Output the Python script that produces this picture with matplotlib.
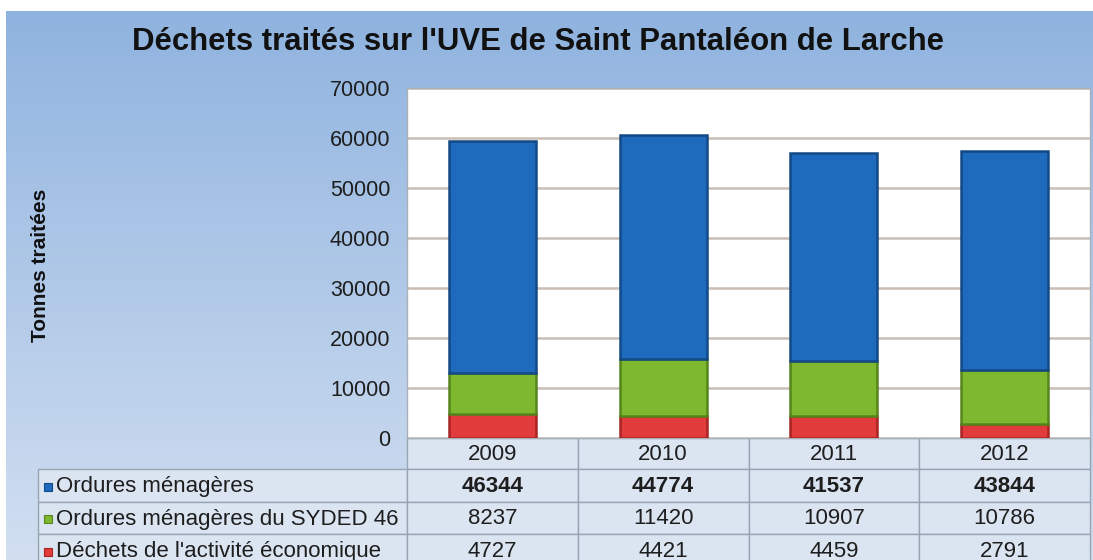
import numpy as np
import matplotlib.pyplot as plt
from matplotlib.patches import Rectangle
from matplotlib.colors import LinearSegmentedColormap

plt.rcParams['font.family'] = ['Liberation Sans', 'DejaVu Sans']

# Data
years = ['2009', '2010', '2011', '2012']
series = ['Ordures ménagères', 'Ordures ménagères du SYDED 46',
          "Déchets de l'activité économique"]
ordures = [46344, 44774, 41537, 43844]
syded = [8237, 11420, 10907, 10786]
activite = [4727, 4421, 4459, 2791]

colors = ['#1e6abd', '#7db82f', '#e23b3b']
edges = ['#134985', '#55851c', '#a82424']

W, H = 1093, 560
fig = plt.figure(figsize=(W / 100, H / 100), dpi=100)
fig.patch.set_facecolor('white')

# background panel (pixel coordinates)
bg = fig.add_axes([0, 0, 1, 1], zorder=0)
bg.set_xlim(0, W)
bg.set_ylim(H, 0)
bg.axis('off')
grad = np.linspace(0, 1, 256).reshape(-1, 1)
cmap = LinearSegmentedColormap.from_list('bg', ['#8fb3df', '#d2dff1'])
bg.imshow(grad, cmap=cmap, extent=[6, W, H, 11], aspect='auto', zorder=0)

# chart area
ax = fig.add_axes([407 / W, (H - 438) / H, (1090 - 407) / W, (438 - 88) / H], zorder=2)
ax.set_facecolor('white')
x = np.arange(len(years))
bw = 0.51
ax.bar(x, activite, width=bw, color=colors[2], edgecolor=edges[2], lw=1.8, zorder=3)
ax.bar(x, syded, bottom=activite, width=bw, color=colors[1], edgecolor=edges[1], lw=1.8, zorder=3)
ax.bar(x, ordures, bottom=np.add(activite, syded), width=bw, color=colors[0],
       edgecolor=edges[0], lw=1.8, zorder=3)

ax.set_xlim(-0.5, 3.5)
ax.set_ylim(0, 70000)
ax.set_yticks(range(0, 70001, 10000))
ax.set_xticks([])
ax.tick_params(axis='y', length=0, pad=12, labelsize=15.5, labelcolor='#1e1e1e')
ax.grid(axis='y', color='#c9bdb5', lw=1.8, zorder=1)
for s in ax.spines.values():
    s.set_color('#a9b0b8')
    s.set_linewidth(1)

fig.text(538 / W, 1 - 42 / H, "Déchets traités sur l'UVE de Saint Pantaléon de Larche",
         ha='center', va='center', fontsize=22.4, fontweight='bold', color='#111111')
fig.text(41 / W, 1 - 265 / H, 'Tonnes traitées', rotation=90, ha='center', va='center',
         fontsize=15, fontweight='bold', color='#111111')

# data table below the chart
cols = np.linspace(407, 1090, len(years) + 1)
rows = [438, 469, 502, 534, 567]
cell_fc = '#dbe5f2'
cell_ec = '#98a4b2'
for i, yr in enumerate(years):
    bg.add_patch(Rectangle((cols[i], rows[0]), cols[i + 1] - cols[i], rows[1] - rows[0],
                           fc=cell_fc, ec=cell_ec, lw=1, zorder=2))
    bg.text((cols[i] + cols[i + 1]) / 2, (rows[0] + rows[1]) / 2 + 1, yr,
            ha='center', va='center', fontsize=16, color='#1e1e1e', zorder=3)

values = [ordures, syded, activite]
for r, (name, vals) in enumerate(zip(series, values)):
    y0, y1 = rows[r + 1], rows[r + 2]
    yc = (y0 + y1) / 2 + 1
    bg.add_patch(Rectangle((38, y0), cols[0] - 38, y1 - y0, fc=cell_fc, ec=cell_ec, lw=1, zorder=2))
    bg.add_patch(Rectangle((44, yc - 4), 8, 8, fc=colors[r], ec=edges[r], lw=0.8, zorder=3))
    bg.text(56, yc, name, ha='left', va='center', fontsize=16, color='#1e1e1e', zorder=3)
    for i, v in enumerate(vals):
        bg.add_patch(Rectangle((cols[i], y0), cols[i + 1] - cols[i], y1 - y0,
                               fc=cell_fc, ec=cell_ec, lw=1, zorder=2))
        bg.text((cols[i] + cols[i + 1]) / 2, yc, str(v), ha='center', va='center',
                fontsize=16, color='#1e1e1e', zorder=3,
                fontweight='bold' if r == 0 else 'normal')

fig.savefig('out.png', dpi=100)
